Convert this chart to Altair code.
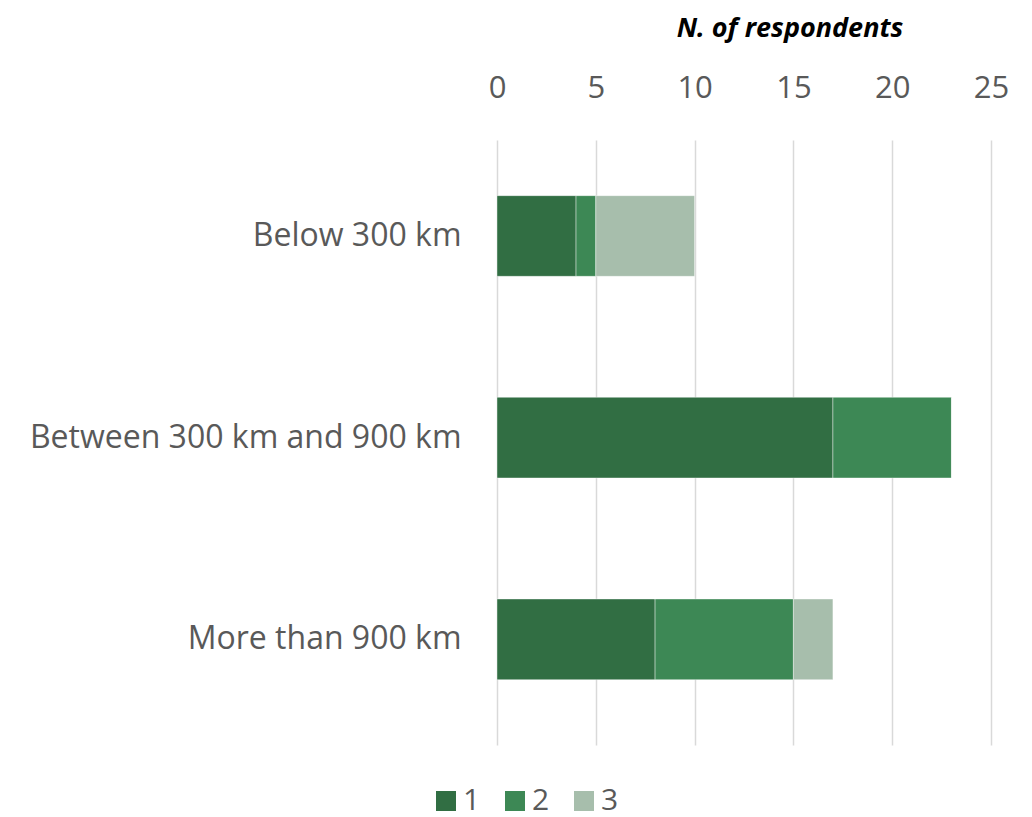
import altair as alt
import pandas as pd

categories = ["Below 300 km", "Between 300 km and 900 km", "More than 900 km"]
series = ["1", "2", "3"]
values_1 = [4, 17, 8]
values_2 = [1, 6, 7]
values_3 = [5, 0, 2]
colors = ["#316E43", "#3D8855", "#A7BEAC"]

rows = []
for i, c in enumerate(categories):
    for s, vals in zip(series, [values_1, values_2, values_3]):
        rows.append({"category": c, "series": s, "value": vals[i], "order": int(s)})
df = pd.DataFrame(rows)

font = "Open Sans"
txt = "#595959"

chart = alt.Chart(df).mark_bar(stroke="#ffffff", strokeWidth=0.8, strokeOpacity=0.5).encode(
    y=alt.Y("category:N", sort=categories,
            scale=alt.Scale(paddingInner=0.6, paddingOuter=0.3, align=0.46),
            axis=alt.Axis(title=None, domain=False, ticks=False, grid=False, labelFont=font,
                          labelFontSize=32, labelColor=txt, labelPadding=36, labelLimit=600)),
    x=alt.X("value:Q", stack="zero",
            scale=alt.Scale(domain=[0, 25]),
            axis=alt.Axis(orient="top", values=[0, 5, 10, 15, 20, 25], domain=False, ticks=False,
                          labelFont=font, labelFontSize=31, labelColor=txt, labelPadding=36,
                          labelFlush=False, title=None,
                          gridColor="#d9d9d9", gridWidth=1.5)),
    color=alt.Color("series:N", scale=alt.Scale(domain=series, range=colors),
                    legend=alt.Legend(title=None, orient="none", direction="horizontal",
                                      legendX=-66, legendY=646, symbolType="square", symbolSize=400,
                                      symbolStrokeWidth=0, labelFont=font, labelFontSize=30,
                                      labelColor=txt, columnPadding=19, labelOffset=2, padding=0,
                                      labelLimit=40)),
    order=alt.Order("order:Q"),
).properties(
    title=alt.TitleParams("N. of respondents", font=font, fontSize=27, fontStyle="italic",
                          fontWeight="bold", color="#000000", anchor="middle", dx=46,
                          offset=2, baseline="bottom"),
    width=494, height=605,
    background="#ffffff",
    padding={"left": 489, "top": 132, "right": 30, "bottom": 74},
    autosize=alt.AutoSizeParams(type="none"),
).configure_view(stroke="transparent", strokeWidth=0)

chart.save("out.html", embed_options={"renderer": "svg", "actions": False})
